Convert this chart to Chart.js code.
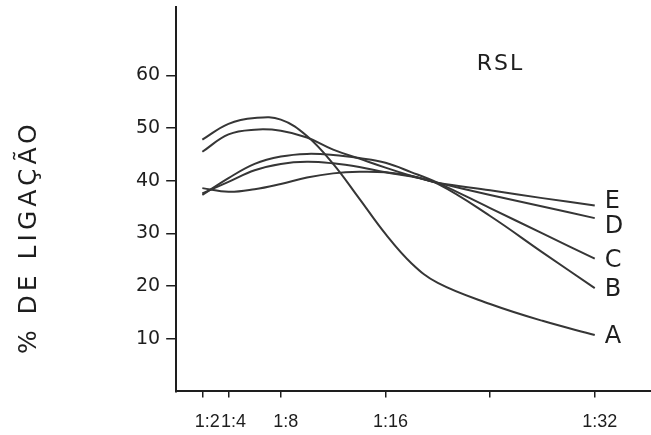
<!DOCTYPE html>
<html>
<head>
<meta charset="utf-8">
<script src="https://cdn.jsdelivr.net/npm/chart.js@4/dist/chart.umd.min.js"></script>
<style>
  html, body { margin: 0; padding: 0; background: #ffffff; }
  #wrap { width: 651px; height: 435px; }
</style>
</head>
<body>
<div id="wrap"><canvas id="c" width="651" height="435"></canvas></div>
<script>
// ---- data ----
const dilutions = [2, 4, 6, 8, 10, 12, 14, 16, 18, 20, 24, 28, 32];
const serieA = [47.8, 50.8, 51.9, 51.6, 48.5, 43.2, 36.6, 29.9, 24.3, 20.6, 16.6, 13.4, 10.7];
const serieB = [45.5, 48.8, 49.7, 49.5, 48.2, 45.9, 44.2, 42.5, 40.9, 39.4, 33.3, 26.4, 19.6];
const serieC = [37.3, 40.5, 43.2, 44.6, 45.1, 44.9, 44.3, 43.4, 41.6, 39.6, 34.8, 30.0, 25.2];
const serieD = [37.6, 39.8, 42.0, 43.2, 43.6, 43.3, 42.6, 41.6, 40.8, 39.6, 37.3, 35.1, 32.9];
const serieE = [38.6, 37.9, 38.4, 39.4, 40.6, 41.4, 41.7, 41.6, 40.9, 39.6, 38.2, 36.7, 35.3];
const seriesNames = ['A', 'B', 'C', 'D', 'E'];
const xTickValues = [2, 4, 8, 16, 24, 32];
const xTickLabels = ['1:2', '1:4', '1:8', '1:16', '', '1:32'];
const yTickValues = [10, 20, 30, 40, 50, 60];
const yTitle = '% DE LIGAÇÃO';
const panelLabel = 'RSL';
const panelLabelAt = { x: 24.8, y: 62.2 };

// ---- chart ----
const allSeries = [serieA, serieB, serieC, serieD, serieE];
const ink = '#1e1e1e';
const lineInk = '#363636';

const datasets = allSeries.map((vals, i) => ({
  label: seriesNames[i],
  data: dilutions.map((x, j) => ({ x: x, y: vals[j] })),
  borderColor: lineInk,
  borderWidth: 2,
  pointRadius: 0,
  fill: false,
  tension: 0.4
}));

const labelsPlugin = {
  id: 'endLabels',
  beforeDraw(chart) {
    const ys = chart.scales.y;
    if (ys && !ys._spacedTitle) {
      const orig = ys.drawTitle.bind(ys);
      ys.drawTitle = function () {
        const c = this.ctx;
        c.save();
        c.letterSpacing = '4px';
        c.translate(0, 38);
        orig();
        c.restore();
      };
      ys._spacedTitle = true;
    }
  },
  afterDatasetsDraw(chart) {
    const ctx = chart.ctx;
    ctx.save();
    ctx.fillStyle = ink;
    ctx.font = '24px "DejaVu Sans"';
    ctx.textAlign = 'left';
    ctx.textBaseline = 'middle';
    const items = chart.data.datasets.map((ds, i) => {
      const meta = chart.getDatasetMeta(i);
      const pt = meta.data[meta.data.length - 1];
      return { text: ds.label, x: pt.x + 10, y: pt.y };
    });
    items.sort((a, b) => a.y - b.y);
    const gap = 25;
    for (let k = 0; k < 30; k++) {
      for (let i = 1; i < items.length; i++) {
        const d = items[i].y - items[i - 1].y;
        if (d < gap) {
          const s = (gap - d) / 2;
          items[i].y += s;
          items[i - 1].y -= s;
        }
      }
    }
    items.forEach(it => ctx.fillText(it.text, it.x, it.y + 2));
    ctx.font = '22px "DejaVu Sans"';
    ctx.letterSpacing = '2px';
    ctx.textAlign = 'center';
    ctx.fillText(panelLabel,
      chart.scales.x.getPixelForValue(panelLabelAt.x),
      chart.scales.y.getPixelForValue(panelLabelAt.y));
    ctx.restore();
  }
};

new Chart(document.getElementById('c'), {
  type: 'line',
  data: { datasets: datasets },
  plugins: [labelsPlugin],
  options: {
    responsive: false,
    animation: false,
    devicePixelRatio: 1,
    layout: { padding: { left: 0, right: 0, top: 6, bottom: -12 } },
    plugins: {
      legend: { display: false },
      tooltip: { enabled: false }
    },
    scales: {
      x: {
        type: 'linear',
        position: 'bottom',
        min: 0,
        max: 36.3,
        afterBuildTicks: (s) => { s.ticks = xTickValues.map(v => ({ value: v })); },
        grid: { display: true, drawOnChartArea: false, drawTicks: true, tickLength: 6, color: ink, lineWidth: 1.5 },
        border: { display: true, color: ink, width: 2 },
        ticks: {
          autoSkip: false,
          maxRotation: 0,
          padding: 14,
          labelOffset: 5,
          color: ink,
          font: { family: 'Liberation Sans', size: 18 },
          callback: (v, i) => xTickLabels[i]
        }
      },
      y: {
        type: 'linear',
        position: 'left',
        min: 0,
        max: 73,
        afterBuildTicks: (s) => { s.ticks = yTickValues.map(v => ({ value: v })); },
        grid: { display: true, drawOnChartArea: false, drawTicks: true, tickLength: 10, color: ink, lineWidth: 1.5 },
        border: { display: true, color: ink, width: 2 },
        ticks: {
          padding: 6,
          color: ink,
          font: { family: 'DejaVu Sans', size: 19, lineHeight: 0.1 }
        },
        title: {
          display: true,
          text: yTitle,
          color: ink,
          font: { family: 'DejaVu Sans', size: 25 },
          padding: { top: 14, bottom: 86 }
        }
      }
    }
  }
});
</script>
</body>
</html>
